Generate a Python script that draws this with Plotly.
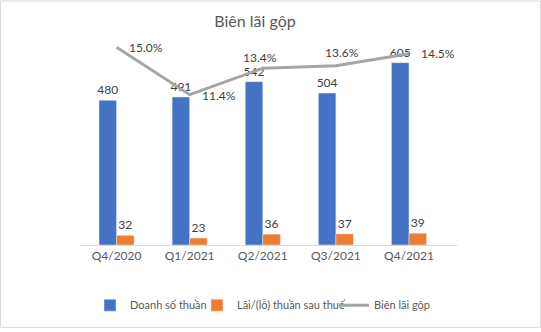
import plotly.graph_objects as go

categories = ["Q4/2020", "Q1/2021", "Q2/2021", "Q3/2021", "Q4/2021"]
revenue = [480, 491, 542, 504, 605]
profit = [32, 23, 36, 37, 39]
margin = [0.150, 0.114, 0.134, 0.136, 0.145]

# label placement for line labels (style only): (xanchor, xshift, yshift)
line_label_pos = [("left", 10, 0), ("left", 10, -1), ("center", -3, 11),
                  ("center", 6, 13), ("left", 10, 0)]

W, H = 541, 332
L, R, T, B = 80, 84, 34, 84
pw, ph = W - L - R, H - T - B

font = "Lato, 'Open Sans', sans-serif"
txt = "#404040"

fig = go.Figure()
fig.add_trace(go.Bar(
    x=categories, y=revenue, name="Doanh số thuần",
    marker_color="#4472C4", text=[str(v) for v in revenue],
    textposition="outside", textfont=dict(size=12, color=txt),
    constraintext="none", cliponaxis=False, legend="legend", showlegend=True,
))
fig.add_trace(go.Bar(
    x=categories, y=profit, name="Lãi/(lỗ) thuần sau thuế",
    marker_color="#ED7D31", text=[str(v) for v in profit],
    textposition="outside", textfont=dict(size=12, color=txt),
    constraintext="none", cliponaxis=False, legend="legend2", showlegend=True,
))
fig.add_trace(go.Scatter(
    x=categories, y=margin, name="Biên lãi gộp", yaxis="y2",
    mode="lines", line=dict(color="#A5A5A5", width=3),
    cliponaxis=False, legend="legend3", showlegend=True,
))

annotations = []
for c, v, (xa, xs, ys) in zip(categories, margin, line_label_pos):
    annotations.append(dict(
        x=c, y=v, xref="x", yref="y2", text=f"{v*100:.1f}%",
        showarrow=False, xanchor=xa, yanchor="middle", xshift=xs, yshift=ys,
        font=dict(size=12, color=txt, family=font),
    ))

def leg(px):
    return dict(orientation="h", x=(px - L) / pw, xanchor="left",
                y=(T + ph - 309) / ph, yanchor="middle",
                font=dict(size=11, color="#595959"), itemwidth=30,
                bgcolor="rgba(0,0,0,0)", visible=True)

fig.update_layout(
    width=W, height=H,
    margin=dict(l=L, r=R, t=T, b=B),
    paper_bgcolor="white", plot_bgcolor="white",
    font=dict(family=font, color="#595959", size=12),
    showlegend=True,
    barmode="group", bargap=0.52, bargroupgap=0,
    title=dict(text="Biên lãi gộp", x=255 / W, xanchor="center",
               y=1 - 21 / H, yanchor="middle", yref="container",
               font=dict(size=16, color="#595959", family=font)),
    xaxis=dict(showline=True, linecolor="#D9D9D9", linewidth=1,
               showgrid=False, ticks="", tickfont=dict(size=12, color="#595959")),
    yaxis=dict(range=[0, 700], visible=False, showgrid=False),
    yaxis2=dict(range=[0, 0.16], visible=False, overlaying="y", side="right", showgrid=False),
    legend=leg(90), legend2=leg(197), legend3=leg(334),
    annotations=annotations,
    shapes=[dict(type="rect", xref="paper", yref="paper",
                 x0=(-L + 0.5) / pw, x1=1 + (R - 0.5) / pw,
                 y0=-(B - 0.5) / ph, y1=1 + (T - 0.5) / ph,
                 line=dict(color="#D9D9D9", width=1), layer="below")],
)

fig.write_html("out.html")
